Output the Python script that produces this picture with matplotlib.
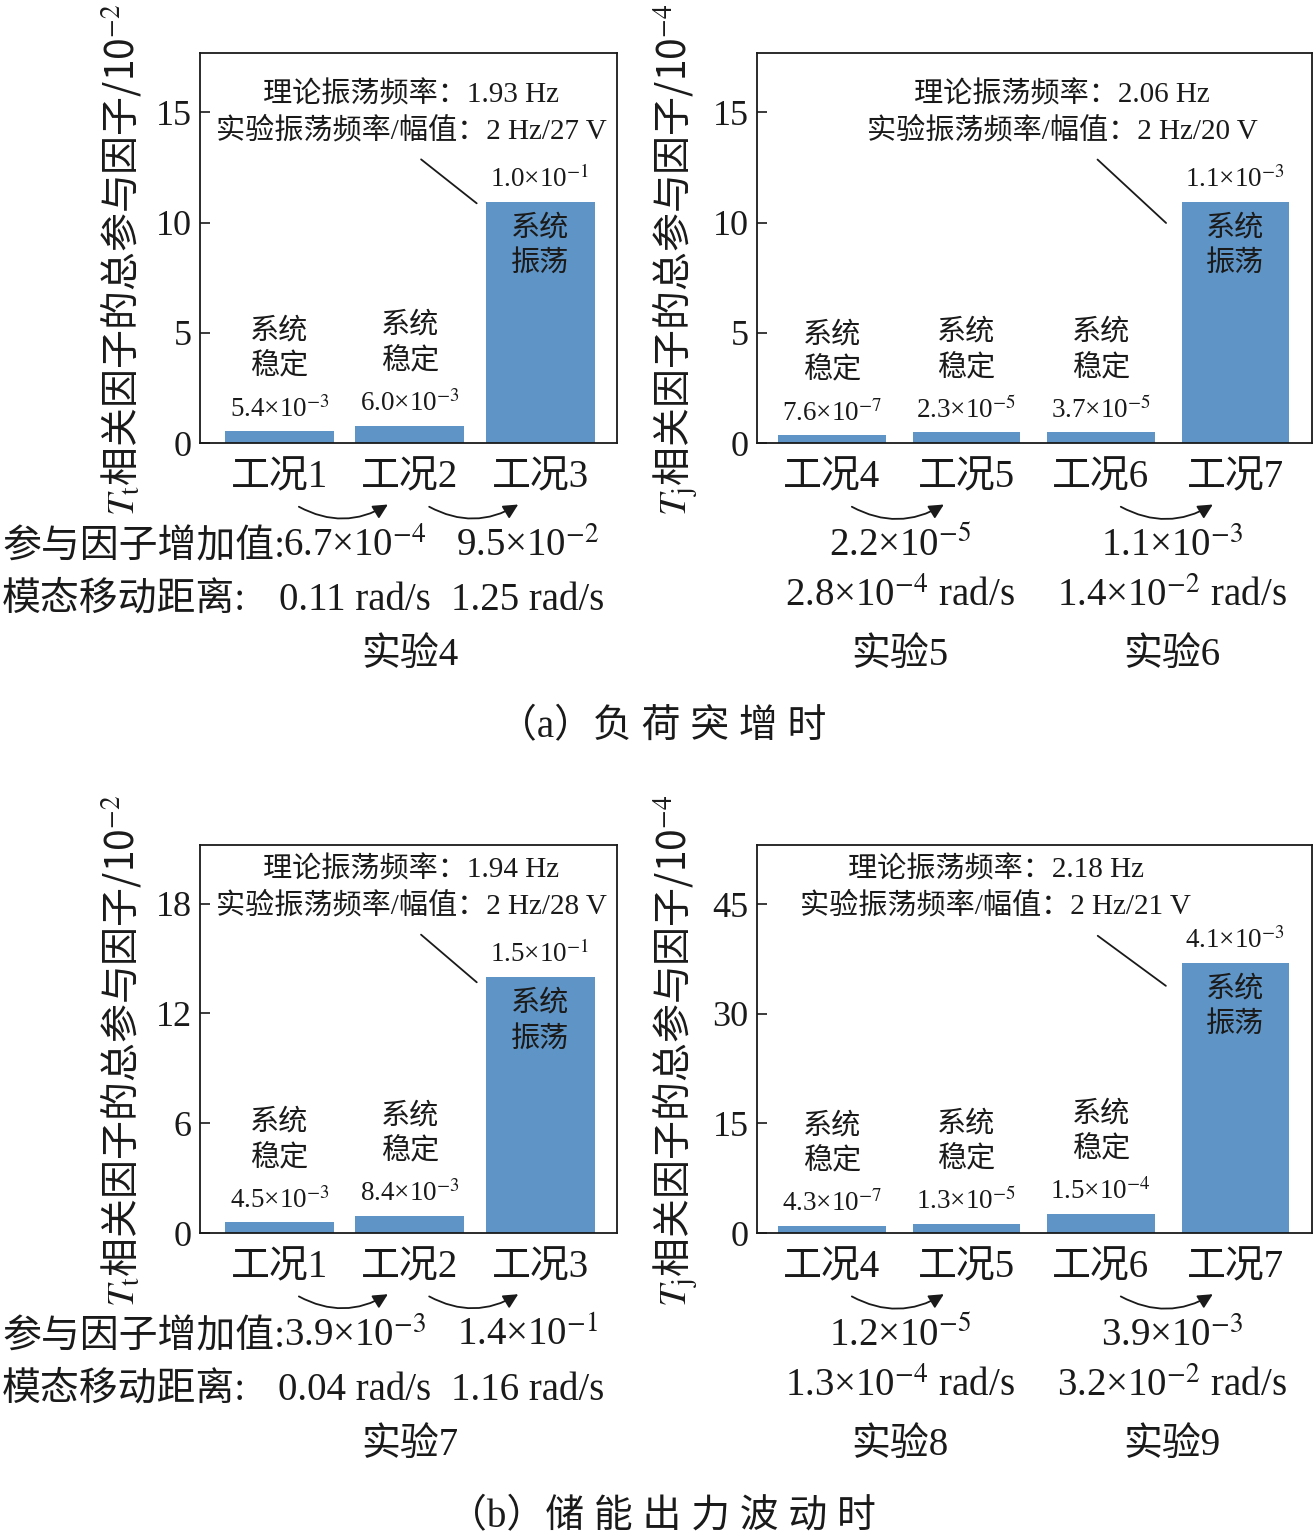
import numpy as np
import matplotlib
matplotlib.use('Agg')
import matplotlib.pyplot as plt

plt.rcParams['font.family'] = ['Liberation Serif', 'Noto Sans CJK SC']
plt.rcParams['mathtext.fontset'] = 'stix'
plt.rcParams['axes.linewidth'] = 1.3

BAR = '#5f94c6'
INK = '#1a1a1a'
W, H = 1315, 1539

# (a) load step
cases_a1 = ['工况1', '工况2', '工况3']
vals_a1 = [0.53, 0.79, 10.95]
lbl_a1 = ['5.4×10$^{-3}$', '6.0×10$^{-3}$', '1.0×10$^{-1}$']
state_a1 = ['稳定', '稳定', '振荡']
info_a1 = '理论振荡频率：1.93 Hz\n实验振荡频率/幅值：2 Hz/27 V'

cases_a2 = ['工况4', '工况5', '工况6', '工况7']
vals_a2 = [0.35, 0.48, 0.48, 10.95]
lbl_a2 = ['7.6×10$^{-7}$', '2.3×10$^{-5}$', '3.7×10$^{-5}$', '1.1×10$^{-3}$']
state_a2 = ['稳定', '稳定', '稳定', '振荡']
info_a2 = '理论振荡频率：2.06 Hz\n实验振荡频率/幅值：2 Hz/20 V'

# (b) storage output fluctuation
cases_b1 = ['工况1', '工况2', '工况3']
vals_b1 = [0.58, 0.95, 14.0]
lbl_b1 = ['4.5×10$^{-3}$', '8.4×10$^{-3}$', '1.5×10$^{-1}$']
state_b1 = ['稳定', '稳定', '振荡']
info_b1 = '理论振荡频率：1.94 Hz\n实验振荡频率/幅值：2 Hz/28 V'

cases_b2 = ['工况4', '工况5', '工况6', '工况7']
vals_b2 = [1.0, 1.27, 2.6, 37.0]
lbl_b2 = ['4.3×10$^{-7}$', '1.3×10$^{-5}$', '1.5×10$^{-4}$', '4.1×10$^{-3}$']
state_b2 = ['稳定', '稳定', '稳定', '振荡']
info_b2 = '理论振荡频率：2.18 Hz\n实验振荡频率/幅值：2 Hz/21 V'

# text under the panels
incr_a = ['6.7×10$^{-4}$', '9.5×10$^{-2}$']
move_a = ['0.11 rad/s', '1.25 rad/s']
incr_a2 = ['2.2×10$^{-5}$', '1.1×10$^{-3}$']
move_a2 = ['2.8×10$^{-4}$ rad/s', '1.4×10$^{-2}$ rad/s']
exp_a = ['实验4', '实验5', '实验6']

incr_b = ['3.9×10$^{-3}$', '1.4×10$^{-1}$']
move_b = ['0.04 rad/s', '1.16 rad/s']
incr_b2 = ['1.2×10$^{-5}$', '3.9×10$^{-3}$']
move_b2 = ['1.3×10$^{-4}$ rad/s', '3.2×10$^{-2}$ rad/s']
exp_b = ['实验7', '实验8', '实验9']

ylab_t = '$T_\\mathrm{t}$相关因子的总参与因子/10$^{-2}$'
ylab_j = '$T_\\mathrm{j}$相关因子的总参与因子/10$^{-4}$'


def fx(p):
    return p / W


def fy(p):
    return 1 - p / H


def panel(ax, cases, vals, lbls, states, ylim, yticks, ylab, lab_x,
          info, info_x, info_y, line, width, xlim, arrows):
    x = np.arange(len(cases))
    ax.bar(x, vals, width=width, color=BAR, zorder=2)
    ax.set_xlim(*xlim)
    ax.set_ylim(*ylim)
    ax.set_yticks(yticks)
    ax.set_xticks(x)
    ax.set_xticklabels(cases, fontsize=28)
    ax.tick_params(axis='x', length=0, pad=12, colors=INK)
    ax.tick_params(axis='y', direction='in', length=7, width=1.2, pad=6,
                   labelsize=26, colors=INK)
    for s in ax.spines.values():
        s.set_color(INK)
    ax.set_ylabel(ylab, family='Noto Sans CJK SC', fontsize=28, va='center',
                  color=INK)
    ax.yaxis.set_label_coords(lab_x, 0.47)
    for xi, v, lb, st in zip(x, vals, lbls, states):
        ax.annotate(lb, (xi, v), xytext=(0, 16), textcoords='offset points',
                    ha='center', va='center', fontsize=19.5, color=INK)
        if st == '振荡':
            ax.annotate('系统\n' + st, (xi, v), xytext=(0, -32),
                        textcoords='offset points', ha='center', va='center',
                        fontsize=21, linespacing=1.4, color=INK)
        else:
            ax.annotate('系统\n' + st, (xi, v), xytext=(0, 59),
                        textcoords='offset points', ha='center', va='center',
                        fontsize=21, linespacing=1.4, color=INK)
    ax.text(info_x, info_y, info, transform=ax.transAxes, ha='center',
            va='center', fontsize=21, linespacing=1.37, color=INK)
    ax.annotate('', xy=line[1], xytext=line[0],
                arrowprops=dict(arrowstyle='-', color=INK, lw=1.3))
    tr = ax.get_xaxis_transform()
    for a in arrows:
        ax.annotate('', xy=(a + 0.85, -0.154), xytext=(a + 0.13, -0.16),
                    xycoords=tr, textcoords=tr, annotation_clip=False,
                    arrowprops=dict(arrowstyle='-|>', color=INK, lw=1.3,
                                    mutation_scale=22,
                                    connectionstyle='arc3,rad=0.3'))


fig = plt.figure(figsize=(W / 100, H / 100), dpi=100)

ax_a1 = fig.add_axes([fx(200), fy(443), 417 / W, 390 / H])
ax_a2 = fig.add_axes([fx(757), fy(443), 555 / W, 390 / H])
ax_b1 = fig.add_axes([fx(200), fy(1233), 417 / W, 388 / H])
ax_b2 = fig.add_axes([fx(757), fy(1233), 555 / W, 388 / H])

panel(ax_a1, cases_a1, vals_a1, lbl_a1, state_a1, (0, 17.7), [0, 5, 10, 15],
      ylab_t, -0.19, info_a1, 0.506, 0.846,
      [(1.07, 12.95), (1.53, 10.8)], 0.835, (-0.61, 2.59), [0, 1])
panel(ax_a2, cases_a2, vals_a2, lbl_a2, state_a2, (0, 17.7), [0, 5, 10, 15],
      ylab_j, -0.147, info_a2, 0.55, 0.846,
      [(1.96, 12.95), (2.5, 9.9)], 0.8, (-0.557, 3.57), [0, 2])
panel(ax_b1, cases_b1, vals_b1, lbl_b1, state_b1, (0, 21.2), [0, 6, 12, 18],
      ylab_t, -0.19, info_b1, 0.506, 0.889,
      [(1.07, 16.4), (1.53, 13.6)], 0.835, (-0.61, 2.59), [0, 1])
panel(ax_b2, cases_b2, vals_b2, lbl_b2, state_b2, (0, 53.1), [0, 15, 30, 45],
      ylab_j, -0.147, info_b2, 0.43, 0.889,
      [(1.96, 40.9), (2.5, 33.6)], 0.8, (-0.557, 3.57), [0, 2])


def bottom(dy, incr, move, incr2, move2, exps, caption):
    kw = dict(va='center', fontsize=28, color=INK)
    fig.text(fx(2), fy(548 + dy), '参与因子增加值:', ha='left', **kw)
    fig.text(fx(2), fy(600 + dy), '模态移动距离:', ha='left', **kw)
    for cx, a, b in zip([355, 528], incr, move):
        fig.text(fx(cx), fy(546 + dy), a, ha='center', **kw)
        fig.text(fx(cx), fy(600 + dy), b, ha='center', **kw)
    fig.text(fx(410), fy(655 + dy), exps[0], ha='center', **kw)
    for cx, a, b, e in zip([900, 1172], incr2, move2, exps[1:]):
        fig.text(fx(cx), fy(546 + dy), a, ha='center', **kw)
        fig.text(fx(cx), fy(596 + dy), b, ha='center', **kw)
        fig.text(fx(cx), fy(655 + dy), e, ha='center', **kw)
    fig.text(fx(662), fy(728 + dy), caption, ha='center', **kw)


bottom(0, incr_a, move_a, incr_a2, move_a2, exp_a, '（a）负 荷 突 增 时')
bottom(790, incr_b, move_b, incr_b2, move_b2, exp_b, '（b）储 能 出 力 波 动 时')

fig.savefig('out.png', dpi=100)
